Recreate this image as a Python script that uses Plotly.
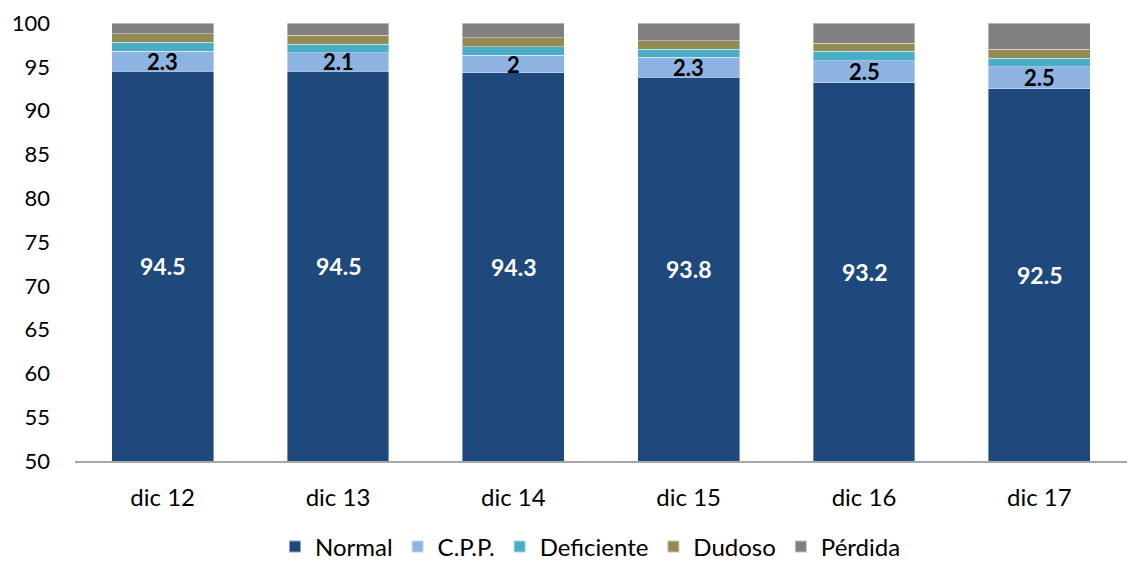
import plotly.graph_objects as go

categories = ["dic 12", "dic 13", "dic 14", "dic 15", "dic 16", "dic 17"]
normal = [94.5, 94.5, 94.3, 93.8, 93.2, 92.5]
cpp = [2.3, 2.1, 2.0, 2.3, 2.5, 2.5]
deficiente = [1.0, 1.0, 1.0, 0.9, 1.1, 1.0]
dudoso = [1.0, 1.0, 1.0, 1.0, 0.9, 1.0]
perdida = [1.2, 1.4, 1.7, 2.0, 2.3, 3.0]

series = [
    ("Normal", normal, "#1F497D"),
    ("C.P.P.", cpp, "#8DB3E2"),
    ("Deficiente", deficiente, "#4BACC6"),
    ("Dudoso", dudoso, "#948A54"),
    ("Pérdida", perdida, "#808080"),
]

Y_MIN, Y_MAX = 50, 100
FONT = "Lato, 'Open Sans', sans-serif"

fig = go.Figure()
for name, vals, color in series:
    fig.add_trace(go.Bar(
        x=categories, y=vals, name=name,
        marker=dict(color=color, line=dict(color="rgba(255,255,255,0.5)", width=0.8)),
        hoverinfo="skip"))

annotations = []
for c, n, p in zip(categories, normal, cpp):
    annotations.append(dict(x=c, y=(Y_MIN + n) / 2, text=f"{n:g}", showarrow=False,
                            font=dict(color="white", size=23, family=FONT, weight="bold"),
                            xanchor="center", yanchor="middle"))
    annotations.append(dict(x=c, y=n + p / 2, text=f"{p:g}", showarrow=False,
                            font=dict(color="black", size=22, family=FONT, weight="bold"),
                            xanchor="center", yanchor="middle"))

fig.update_layout(
    barmode="stack",
    bargap=0.42,
    paper_bgcolor="white",
    plot_bgcolor="white",
    width=1127, height=564,
    margin=dict(l=75, r=0, t=23, b=103, autoexpand=False),
    font=dict(family=FONT, size=22, color="black"),
    showlegend=True,
    legend=dict(orientation="h", x=0.49, xanchor="center", y=-0.145, yanchor="top",
                font=dict(size=24), itemsizing="constant", traceorder="normal"),
    annotations=annotations,
)
fig.update_yaxes(range=[Y_MIN, Y_MAX], tick0=50, dtick=5, showgrid=False, zeroline=False,
                 showline=False, ticks="", ticklabelstandoff=24,
                 tickfont=dict(size=22))
fig.update_xaxes(showline=True, linecolor="#A6A6A6", linewidth=2, ticks="",
                 tickfont=dict(size=24), ticklabelstandoff=14)

fig.write_html("out.html")
